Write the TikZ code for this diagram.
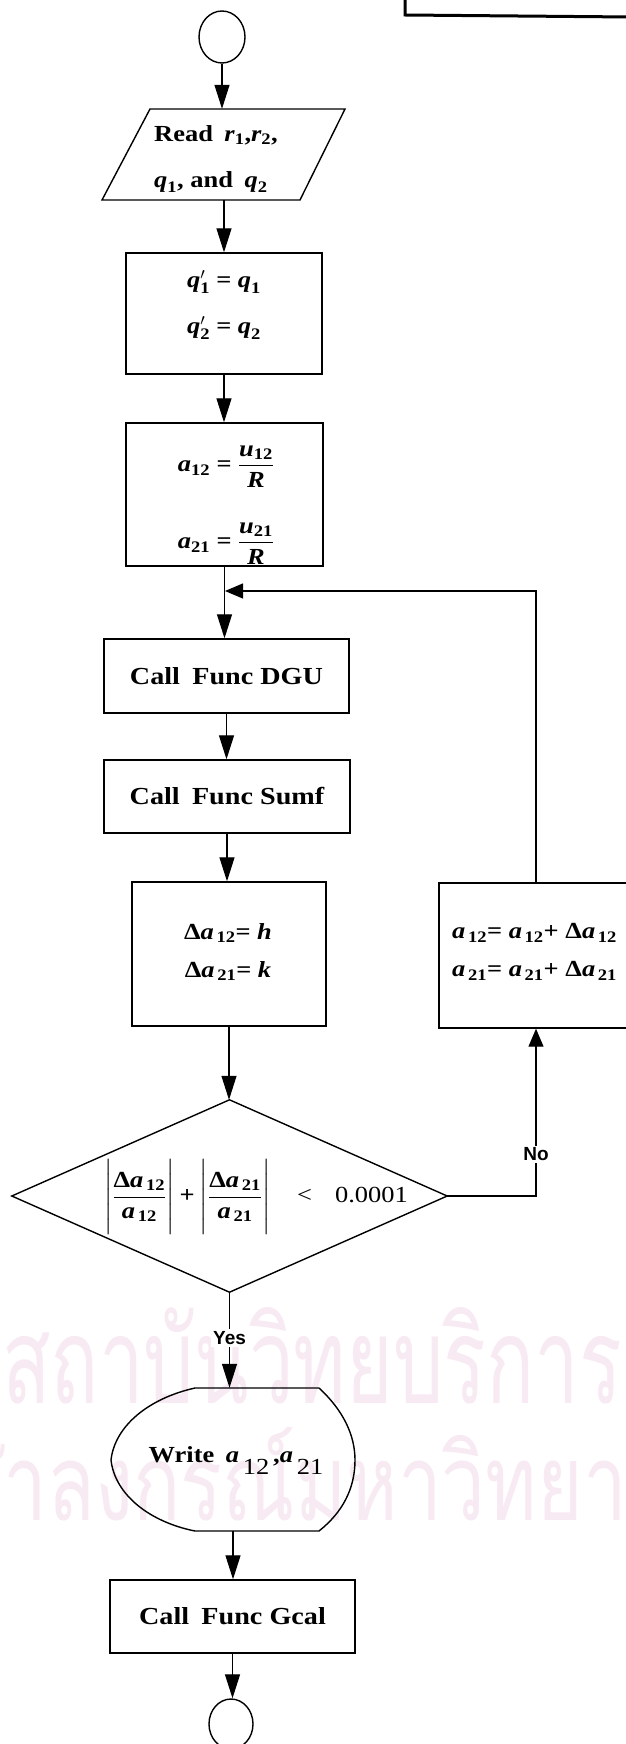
\RequirePackage{fix-cm}
\documentclass[tikz,border=0pt]{standalone}
\usepackage{fontspec}
\usepackage{amsmath}
\usepackage{graphicx}
\setmainfont{Liberation Serif}[FakeStretch=1.15]
\newfontfamily\lblfont{Liberation Sans}
\newfontfamily\thaifont[Script=Thai]{Loma}
\usetikzlibrary{arrows.meta,shapes.geometric}

% variables in bold italic, operators in the text font
\newcommand{\V}[1]{\text{\itshape #1}}
\newcommand{\E}{\mathrel{\text{=}}}
\newcommand{\Pl}{\mathbin{\text{+}}}
\newcommand{\sbs}[1]{\textsubscript{\,#1}}
\newcommand{\boxfont}{\fontsize{23}{30}\selectfont\bfseries}
\newcommand{\callfont}{\fontsize{24.5}{30}\selectfont\bfseries}

\definecolor{wmark}{RGB}{248,234,242}

\tikzset{
  outline/.style={line width=1.4pt},
  stepbox/.style={draw, outline, rectangle, inner sep=0pt, align=center, font=\callfont},
  term/.style={draw, outline, ellipse, inner sep=0pt},
  hole/.style={inner sep=0pt, align=center, font=\boxfont},
  flow/.style={line width=1.2pt, -{Triangle[length=24pt,width=15pt]}},
  back/.style={line width=1.2pt, -{Triangle[length=18pt,width=15pt]}},
  tag/.style={fill=white, inner sep=2pt, font=\lblfont\bfseries\fontsize{19}{22}\selectfont},
  wmtext/.style={anchor=base west, inner sep=0pt, text=wmark},
}

\begin{document}
\begin{tikzpicture}[x=1pt,y=-1pt]
\useasboundingbox (0,0) rectangle (625,1744);
\fill[white] (0,0) rectangle (625,1744);

% faint watermark lettering
\node[wmtext] (wm1) at (2,1403) {\resizebox{620pt}{96pt}{\thaifont สถาบันวิทยบริการ}};
\node[wmtext] (wm2) at (-96,1520) {\resizebox{816pt}{93pt}{\thaifont จุฬาลงกรณ์มหาวิทยาลัย}};

% corner of the frame at the top right
\draw[line width=3pt] (405,-2) -- (405,15) -- (630,17);

% start terminal
\node[term, minimum width=46pt, minimum height=52pt] (start) at (222,37) {};

% input parallelogram
\draw[outline] (150,109) -- (345,109) -- (300,200) -- (102,200) -- cycle;
\node[minimum width=150pt, minimum height=91pt, inner sep=0pt] (read) at (223,154.5) {};
\node[hole, align=left] (readt) at (216,159)
  {Read\enspace$\V{r}_{\text{1}}$,$\V{r}_{\text{2}}$,\\[16pt]$\V{q}_{\text{1}}$, and\enspace$\V{q}_{\text{2}}$};

% process boxes
\node[stepbox, minimum width=196pt, minimum height=121pt] (qb) at (224,313.5) {};
\node[hole] (qbt) at (224,305)
  {$\V{q}^{\prime}_{\text{1}} \E \V{q}_{\text{1}}$\\[16pt]$\V{q}^{\prime}_{\text{2}} \E \V{q}_{\text{2}}$};
\node[stepbox, minimum width=197pt, minimum height=143pt] (ab) at (224.5,494.5) {};
\node[hole] (abt) at (226,505)
  {$\V{a}_{\text{12}} \E \dfrac{\V{u}_{\text{12}}}{\V{R}}$\\[34pt]$\V{a}_{\text{21}} \E \dfrac{\V{u}_{\text{21}}}{\V{R}}$};
\coordinate (jn) at (225,591);
\node[stepbox, minimum width=245pt, minimum height=74pt] (dgu) at (226.5,676) {Call\enspace Func DGU};
\node[stepbox, minimum width=246pt, minimum height=73pt] (sumf) at (227,796.5) {Call\enspace Func Sumf};
\node[stepbox, minimum width=194pt, minimum height=144pt] (dl) at (229,954) {};
\node[hole] (dlt) at (228,952)
  {Δ{\itshape a}\sbs{12}= {\itshape h}\\[8pt]Δ{\itshape a}\sbs{21}= {\itshape k}};
\node[stepbox, minimum width=221pt, minimum height=145pt] (upd) at (549.5,955.5) {};
\node[hole, align=left, anchor=west] (updt) at (452,952)
  {{\itshape a}\sbs{12}= {\itshape a}\sbs{12}+ Δ{\itshape a}\sbs{12}\\[8pt]{\itshape a}\sbs{21}= {\itshape a}\sbs{21}+ Δ{\itshape a}\sbs{21}};
\coordinate (fbtop) at (536,591);

% decision
\node[minimum width=435pt, minimum height=192pt, inner sep=0pt] (dec) at (229.5,1196) {};
\draw[outline] (dec.north) -- (dec.east) -- (dec.south) -- (dec.west) -- cycle;
\node[hole] (cond) at (256,1197)
  {$\left|\dfrac{\rule{0pt}{20pt}\text{Δ}\V{a}_{\,\text{12}}}{\rule[-12pt]{0pt}{30pt}\V{a}_{\,\text{12}}}\right| \Pl
    \left|\dfrac{\rule{0pt}{20pt}\text{Δ}\V{a}_{\,\text{21}}}{\rule[-12pt]{0pt}{30pt}\V{a}_{\,\text{21}}}\right|
    \quad\text{\mdseries<}\quad\text{\mdseries 0.0001}$};

% display (output) symbol
\node[minimum width=244pt, minimum height=143pt, inner sep=0pt] (wr) at (233,1459.5) {};
\node[hole] (wrt) at (236,1461)
  {Write\enspace\V{a}\,\raisebox{-12pt}{\mdseries 12}\,,\V{a}\,\raisebox{-12pt}{\mdseries 21}};
\draw[outline] (195,1388) -- (319,1388)
  .. controls (343,1410) and (355,1435) .. (355,1460)
  .. controls (355,1488) and (343,1512) .. (319,1531)
  -- (195,1531)
  .. controls (150,1522) and (115,1495) .. (111,1460)
  .. controls (115,1425) and (150,1398) .. (195,1388) -- cycle;

\node[stepbox, minimum width=245pt, minimum height=73pt] (gc) at (232.5,1616.5) {Call\enspace Func Gcal};
\node[term, minimum width=44pt, minimum height=50pt] (stop) at (231,1724) {};

% connectors
\draw[flow] (start.south) -- (start.south |- read.north);
\draw[flow] (qb.north |- read.south) -- (qb.north);
\draw[flow] (qb.south) -- (qb.south |- ab.north);
\draw[flow] (ab.south) -- (ab.south |- dgu.north);
\draw[flow] (dgu.south) -- (dgu.south |- sumf.north);
\draw[flow] (sumf.south) -- (sumf.south |- dl.north);
\draw[flow] (dl.south) -- (dl.south |- dec.north);
\draw[flow] (dec.south) -- node[tag, pos=0.48] {Yes} (dec.south |- wr.north);
\draw[flow] (wr.south) -- (wr.south |- gc.north);
\draw[flow] (gc.south) -- (gc.south |- stop.north);
\draw[back] (dec.east) -- (dec.east -| fbtop) -- node[tag, pos=0.25] {No} (upd.south -| fbtop);
\draw[back] (upd.north -| fbtop) -- (fbtop) -- (jn);
\end{tikzpicture}
\end{document}
